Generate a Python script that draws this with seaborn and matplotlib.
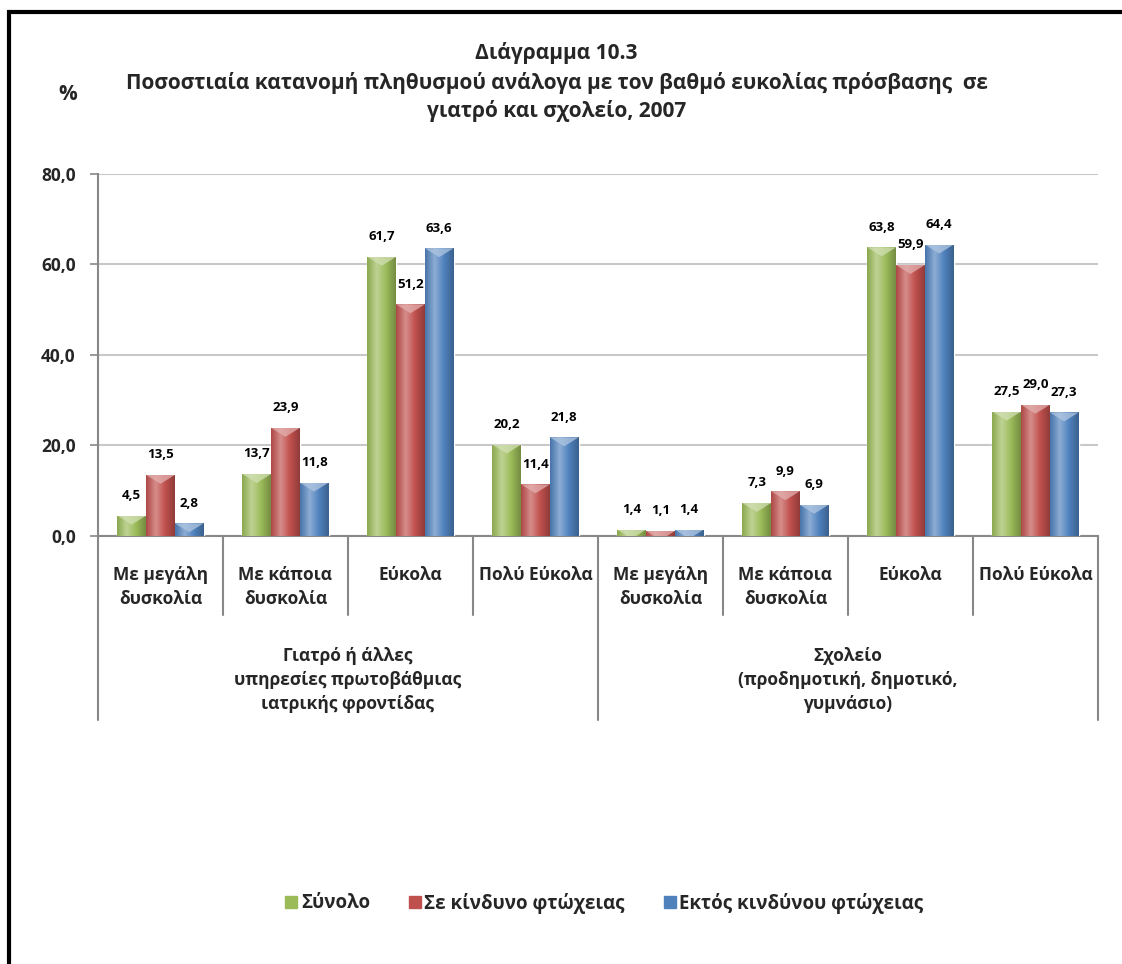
import numpy as np
import pandas as pd
import matplotlib
matplotlib.use("Agg")
import matplotlib.pyplot as plt
import matplotlib.colors as mcolors
import matplotlib.transforms as mtransforms
from matplotlib.lines import Line2D
from matplotlib.patches import Rectangle, Polygon
import seaborn as sns

# Data
categories = ["Με μεγάλη\nδυσκολία", "Με κάποια\nδυσκολία", "Εύκολα", "Πολύ Εύκολα",
              "Με μεγάλη\nδυσκολία", "Με κάποια\nδυσκολία", "Εύκολα", "Πολύ Εύκολα"]
groups = ["Γιατρό ή άλλες\nυπηρεσίες πρωτοβάθμιας\nιατρικής φροντίδας",
          "Σχολείο\n(προδημοτική, δημοτικό,\nγυμνάσιο)"]
series = ["Σύνολο", "Σε κίνδυνο φτώχειας", "Εκτός κινδύνου φτώχειας"]
total = [4.5, 13.7, 61.7, 20.2, 1.4, 7.3, 63.8, 27.5]
at_risk = [13.5, 23.9, 51.2, 11.4, 1.1, 9.9, 59.9, 29.0]
not_at_risk = [2.8, 11.8, 63.6, 21.8, 1.4, 6.9, 64.4, 27.3]
yticks = [0, 20, 40, 60, 80]

colors = ["#9BBB59", "#C0504D", "#4F81BD"]
grid_gray = "#C8C8C8"
axis_gray = "#888888"


def main() -> None:
    sns.set_theme(style="white")
    plt.rcParams["font.family"] = ["Open Sans", "DejaVu Sans"]
    plt.rcParams["font.weight"] = "bold"

    rows = []
    for name, vals in zip(series, [total, at_risk, not_at_risk]):
        for i, v in enumerate(vals):
            rows.append({"pos": i, "series": name, "value": v})
    df = pd.DataFrame(rows)

    fig = plt.figure(figsize=(11.22, 9.64), dpi=100)
    ax = fig.add_axes([0.0873, 0.444, 0.8913, 0.3755])

    sns.barplot(data=df, x="pos", y="value", hue="series", hue_order=series,
                palette=colors, width=0.69, gap=0, saturation=1, ax=ax,
                legend=False, zorder=3, errorbar=None)

    ax.set_xlim(-0.5, 7.5)
    ax.set_ylim(0, 80)
    cap = 9 / 4.53  # about 9 px in data units

    # cylinder-like shading of each bar, with a lighter cap on top
    for patch in list(ax.patches):
        x0, y0 = patch.get_x(), patch.get_y()
        w, h = patch.get_width(), patch.get_height()
        if h <= 0:
            continue
        base = np.array(mcolors.to_rgb(patch.get_facecolor()))
        light = base + (1 - base) * 0.35
        dark = base * 0.75
        cmap = mcolors.LinearSegmentedColormap.from_list(
            "cyl", [base * 0.9, light, base, dark])
        grad = np.linspace(0, 1, 64).reshape(1, -1)
        im = ax.imshow(grad, cmap=cmap, extent=(x0, x0 + w, y0, y0 + h),
                       aspect="auto", zorder=4, interpolation="bicubic")
        im.set_clip_path(patch)
        top = y0 + h
        tri = Polygon([(x0, top), (x0 + w, top), (x0 + w / 2, top - cap)],
                      closed=True, facecolor=base + (1 - base) * 0.55,
                      edgecolor="none", alpha=0.75, zorder=5)
        ax.add_patch(tri)
        tri.set_clip_path(patch)

    ax.set_xlim(-0.5, 7.5)
    ax.set_ylim(0, 80)

    # data labels
    for k, vals in enumerate([total, at_risk, not_at_risk]):
        for i, v in enumerate(vals):
            xc = i + (k - 1) * 0.23
            ax.annotate(f"{v:.1f}".replace(".", ","), xy=(xc, v), xytext=(0, 14.5),
                        textcoords="offset points", ha="center", va="center",
                        fontsize=9.5, fontweight="bold", color="black", zorder=6)

    # axes styling
    ax.set_yticks(yticks)
    ax.set_yticklabels([f"{t:.1f}".replace(".", ",") for t in yticks],
                       fontsize=12.5, fontweight="bold")
    ax.yaxis.grid(True, color=grid_gray, linewidth=1.5, zorder=0)
    ax.set_axisbelow(True)
    ax.tick_params(axis="y", length=6, width=1.2, color=axis_gray, pad=10, left=True)
    ax.set_xticks([])
    ax.set_xlabel("")
    ax.set_ylabel("")
    for s in ["top", "right"]:
        ax.spines[s].set_visible(False)
    for s in ["left", "bottom"]:
        ax.spines[s].set_color(axis_gray)
        ax.spines[s].set_linewidth(1.5)

    # category separators and labels below the axis
    trans = mtransforms.blended_transform_factory(ax.transData, ax.transAxes)
    for xs in [0.5, 1.5, 2.5, 4.5, 5.5, 6.5]:
        ax.plot([xs, xs], [0, -0.218], transform=trans, color=axis_gray,
                linewidth=1.5, clip_on=False)
    for xs in [-0.5, 3.5, 7.5]:
        ax.plot([xs, xs], [0, -0.508], transform=trans, color=axis_gray,
                linewidth=1.5, clip_on=False)
    for i, lab in enumerate(categories):
        ax.text(i, -0.083, lab, transform=trans, ha="center", va="top",
                fontsize=12.5, fontweight="bold", linespacing=1.42)
    for j, lab in enumerate(groups):
        ax.text(1.5 + 4 * j, -0.307, lab, transform=trans, ha="center", va="top",
                fontsize=12.5, fontweight="bold", linespacing=1.42)

    # titles
    fig.text(0.496, 1 - 53 / 964, "Διάγραμμα 10.3", ha="center", va="center",
             fontsize=15, fontweight="bold")
    fig.text(0.496, 1 - 97 / 964,
             "Ποσοστιαία κατανομή πληθυσμού ανάλογα με τον βαθμό ευκολίας πρόσβασης  σε\n"
             "γιατρό και σχολείο, 2007",
             ha="center", va="center", fontsize=15, fontweight="bold", linespacing=1.3)
    fig.text(68 / 1122, 1 - 95 / 964, "%", ha="center", va="center",
             fontsize=15, fontweight="bold")

    # legend
    handles = [Line2D([0], [0], marker="s", linestyle="none", markersize=8.5,
                      markerfacecolor=c, markeredgecolor=c, label=s)
               for c, s in zip(colors, series)]
    fig.legend(handles=handles, loc="center", bbox_to_anchor=(0.538, 1 - 903 / 964),
               ncol=3, frameon=False, handletextpad=0.1,
               columnspacing=2.0, handlelength=0.8,
               prop={"weight": "bold", "size": 13.5})

    # outer frame (only left and top visible)
    fig.patches.append(Rectangle((9 / 1122, -0.2), 1.5, 1.2 - 12 / 964,
                                 transform=fig.transFigure, fill=False,
                                 edgecolor="black", linewidth=3, zorder=10))

    fig.savefig("out.png", dpi=100, facecolor="white")


if __name__ == "__main__":
    main()
